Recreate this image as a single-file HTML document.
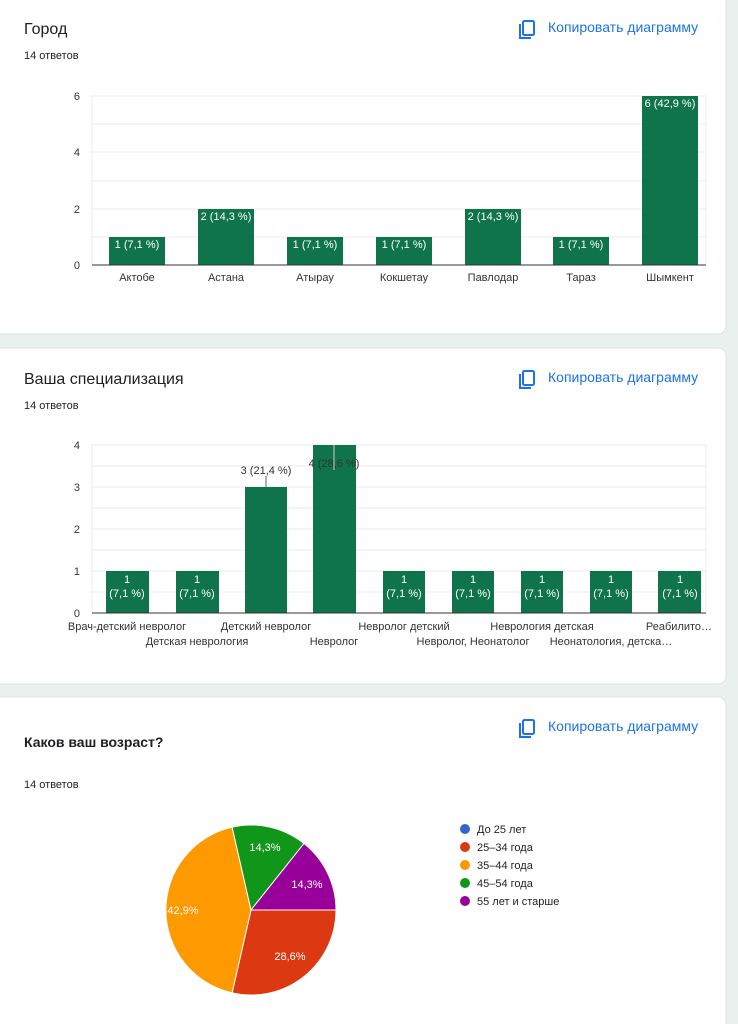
<!DOCTYPE html><html><head><meta charset="utf-8"><style>
body{margin:0;width:738px;height:1024px;background:#e9f0ed;overflow:hidden;font-family:"Liberation Sans",Arial,sans-serif}
svg{display:block}
</style></head><body>
<svg width="738" height="1024" viewBox="0 0 738 1024" font-family="Liberation Sans, Arial, sans-serif">
<rect x="-10" y="-10" width="736" height="344" rx="8" fill="#fff" stroke="#dde3e0"/>
<rect x="-10" y="348" width="736" height="336" rx="8" fill="#fff" stroke="#dde3e0"/>
<rect x="-10" y="697" width="736" height="340" rx="8" fill="#fff" stroke="#dde3e0"/>
<g fill="#1a73e8" font-size="14">
<g transform="translate(0,0)"><rect x="523" y="21" width="11" height="14" rx="1.5" fill="none" stroke="#1a73e8" stroke-width="2"/><path d="M520 24v14h11" fill="none" stroke="#1a73e8" stroke-width="2"/><text x="548" y="32">Копировать диаграмму</text></g>
<g transform="translate(0,350)"><rect x="523" y="21" width="11" height="14" rx="1.5" fill="none" stroke="#1a73e8" stroke-width="2"/><path d="M520 24v14h11" fill="none" stroke="#1a73e8" stroke-width="2"/><text x="548" y="32">Копировать диаграмму</text></g>
<g transform="translate(0,699)"><rect x="523" y="21" width="11" height="14" rx="1.5" fill="none" stroke="#1a73e8" stroke-width="2"/><path d="M520 24v14h11" fill="none" stroke="#1a73e8" stroke-width="2"/><text x="548" y="32">Копировать диаграмму</text></g>
</g>
<g fill="#202124">
<text x="24" y="34" font-size="16">Город</text>
<text x="24" y="59" font-size="11">14 ответов</text>
<text x="24" y="384" font-size="16">Ваша специализация</text>
<text x="24" y="409" font-size="11">14 ответов</text>
<text x="24" y="747" font-size="14" font-weight="bold">Каков ваш возраст?</text>
<text x="24" y="788" font-size="11">14 ответов</text>
</g>
<g stroke="#ebebeb"><line x1="92" x2="706" y1="96" y2="96"/><line x1="92" x2="706" y1="124" y2="124"/><line x1="92" x2="706" y1="152" y2="152"/><line x1="92" x2="706" y1="181" y2="181"/><line x1="92" x2="706" y1="209" y2="209"/><line x1="92" x2="706" y1="237" y2="237"/><line x1="92" x2="92" y1="96" y2="265"/><line x1="706" x2="706" y1="96" y2="265"/></g>
<g fill="#333" font-size="11" text-anchor="end"><text x="80" y="100">6</text><text x="80" y="156">4</text><text x="80" y="213">2</text><text x="80" y="269">0</text></g>
<g fill="#0f744c"><rect x="109" y="237" width="56" height="28"/><rect x="198" y="209" width="56" height="56"/><rect x="287" y="237" width="56" height="28"/><rect x="376" y="237" width="56" height="28"/><rect x="465" y="209" width="56" height="56"/><rect x="553" y="237" width="56" height="28"/><rect x="642" y="96" width="56" height="169"/></g>
<line x1="92" x2="706" y1="265" y2="265" stroke="#333"/>
<g fill="#fff" font-size="11" text-anchor="middle"><text x="137" y="248">1 (7,1 %)</text><text x="226" y="220">2 (14,3 %)</text><text x="315" y="248">1 (7,1 %)</text><text x="404" y="248">1 (7,1 %)</text><text x="493" y="220">2 (14,3 %)</text><text x="581" y="248">1 (7,1 %)</text><text x="670" y="107">6 (42,9 %)</text></g>
<g fill="#333" font-size="11" text-anchor="middle"><text x="137" y="281">Актобе</text><text x="226" y="281">Астана</text><text x="315" y="281">Атырау</text><text x="404" y="281">Кокшетау</text><text x="493" y="281">Павлодар</text><text x="581" y="281">Тараз</text><text x="670" y="281">Шымкент</text></g>
<g stroke="#ebebeb"><line x1="92" x2="706" y1="445" y2="445"/><line x1="92" x2="706" y1="466" y2="466"/><line x1="92" x2="706" y1="487" y2="487"/><line x1="92" x2="706" y1="508" y2="508"/><line x1="92" x2="706" y1="529" y2="529"/><line x1="92" x2="706" y1="550" y2="550"/><line x1="92" x2="706" y1="571" y2="571"/><line x1="92" x2="706" y1="592" y2="592"/><line x1="92" x2="92" y1="445" y2="613"/><line x1="706" x2="706" y1="445" y2="613"/></g>
<g fill="#333" font-size="11" text-anchor="end"><text x="80" y="449">4</text><text x="80" y="491">3</text><text x="80" y="533">2</text><text x="80" y="575">1</text><text x="80" y="617">0</text></g>
<g fill="#0f744c"><rect x="106" y="571" width="43" height="42"/><rect x="176" y="571" width="43" height="42"/><rect x="245" y="487" width="42" height="126"/><rect x="313" y="445" width="43" height="168"/><rect x="383" y="571" width="42" height="42"/><rect x="452" y="571" width="42" height="42"/><rect x="521" y="571" width="42" height="42"/><rect x="590" y="571" width="42" height="42"/><rect x="658" y="571" width="43" height="42"/></g>
<line x1="92" x2="706" y1="613" y2="613" stroke="#333"/>
<line x1="266" x2="266" y1="476" y2="487" stroke="#666"/>
<line x1="334" x2="334" y1="445" y2="470" stroke="#ccc"/>
<g fill="#333" font-size="11" text-anchor="middle"><text x="266" y="474">3 (21,4 %)</text><text x="334" y="467">4 (28,6 %)</text></g>
<g fill="#fff" font-size="11" text-anchor="middle">
<text x="127" y="583">1</text><text x="127" y="597">(7,1 %)</text>
<text x="197" y="583">1</text><text x="197" y="597">(7,1 %)</text>
<text x="404" y="583">1</text><text x="404" y="597">(7,1 %)</text>
<text x="473" y="583">1</text><text x="473" y="597">(7,1 %)</text>
<text x="542" y="583">1</text><text x="542" y="597">(7,1 %)</text>
<text x="611" y="583">1</text><text x="611" y="597">(7,1 %)</text>
<text x="680" y="583">1</text><text x="680" y="597">(7,1 %)</text></g>
<g fill="#333" font-size="11" text-anchor="middle">
<text x="127" y="630">Врач-детский невролог</text><text x="197" y="645">Детская неврология</text>
<text x="266" y="630">Детский невролог</text><text x="334" y="645">Невролог</text>
<text x="404" y="630">Невролог детский</text><text x="473" y="645">Невролог, Неонатолог</text>
<text x="542" y="630">Неврология детская</text><text x="611" y="645">Неонатология, детска…</text>
<text x="679" y="630">Реабилито…</text></g>
<g stroke="#fff" stroke-width="1">
<path d="M251 910 L336 910 A85 85 0 0 1 232.1 992.9Z" fill="#dc3912"/>
<path d="M251 910 L232.1 992.9 A85 85 0 0 1 232.1 827.1Z" fill="#ff9900"/>
<path d="M251 910 L232.1 827.1 A85 85 0 0 1 304 843.5Z" fill="#109618"/>
<path d="M251 910 L304 843.5 A85 85 0 0 1 336 910Z" fill="#990099"/>
</g>
<g fill="#fff" font-size="11" text-anchor="middle"><text x="265" y="851">14,3%</text><text x="307" y="888">14,3%</text><text x="183" y="914">42,9%</text><text x="290" y="960">28,6%</text></g>
<g font-size="11" fill="#222">
<circle cx="465" cy="829" r="5" fill="#3366cc"/><text x="477" y="833">До 25 лет</text>
<circle cx="465" cy="847" r="5" fill="#dc3912"/><text x="477" y="851">25–34 года</text>
<circle cx="465" cy="865" r="5" fill="#ff9900"/><text x="477" y="869">35–44 года</text>
<circle cx="465" cy="883" r="5" fill="#109618"/><text x="477" y="887">45–54 года</text>
<circle cx="465" cy="901" r="5" fill="#990099"/><text x="477" y="905">55 лет и старше</text>
</g>
</svg>
</body></html>
